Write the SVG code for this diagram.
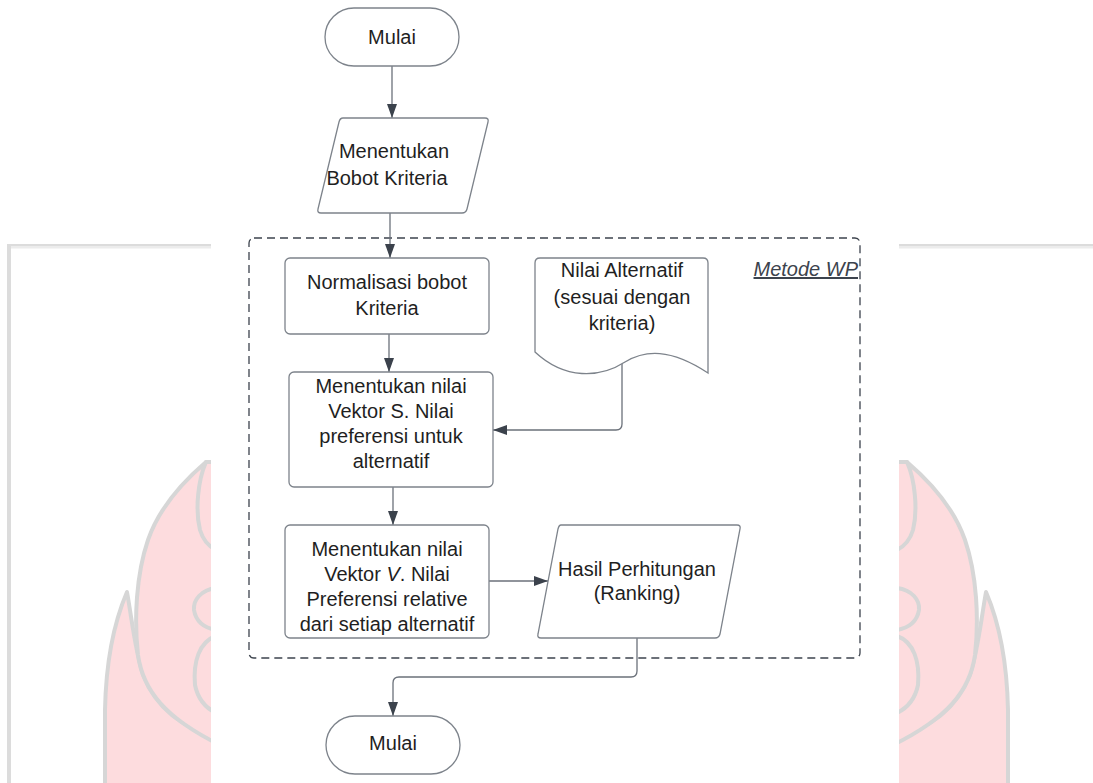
<svg xmlns="http://www.w3.org/2000/svg" width="1093" height="783" viewBox="0 0 1093 783">
  <defs>
    <style>
      .node { fill: #ffffff; stroke: #7d838b; stroke-width: 1.3; }
      .conn { fill: none; stroke: #6b717a; stroke-width: 1.3; }
      .frame { fill: none; stroke: #3c434d; stroke-width: 1.3; stroke-dasharray: 8 5; }
      .t { font-family: "Liberation Sans", Arial, sans-serif; font-size: 20px; fill: #1f1f1f; text-anchor: middle; }
      .lbl { font-family: "Liberation Sans", Arial, sans-serif; font-size: 20px; font-style: italic; fill: #3c434d; text-anchor: end; text-decoration: underline; }
      .flame { fill: #fddcde; stroke: #d6d6d6; stroke-width: 4; stroke-linejoin: round; }
      .fline { fill: none; stroke: #d6d6d6; stroke-width: 4; stroke-linecap: round; }
    </style>
    <marker id="arrow" viewBox="0 0 14 10" refX="14" refY="5" markerWidth="14" markerHeight="10" markerUnits="userSpaceOnUse" orient="auto">
      <path d="M0,0 L14,5 L0,10 Z" fill="#3b424c"/>
    </marker>
    <g id="flameHalf">
      <!-- small outer flame -->
      <path class="flame" d="M127,592 C115,620 106,660 105,710 L105,790 L220,790 L220,738 C180,728 155,705 143,675 C135,650 132,620 127,592 Z"/>
      <!-- large inner flame -->
      <path class="flame" d="M206,462 C185,480 160,505 148,540 C136,575 134,620 138,655 C143,690 165,718 220,745 L220,462 Z"/>
      <path class="fline" d="M206,462 C198,480 195,510 200,530 C203,540 208,546 216,550"/>
      <path class="fline" d="M216,588 C201,590 193,600 194,610 C196,622 205,628 216,630"/>
      <path class="fline" d="M216,636 C199,642 193,662 195,685 C198,700 206,708 216,713"/>
    </g>
  </defs>

  <rect x="0" y="0" width="1093" height="783" fill="#ffffff"/>

  <!-- background page watermark -->
  <g id="watermark">
    <rect x="7" y="244" width="1086" height="2" fill="#dcdcdc"/>
    <rect x="7" y="246" width="1086" height="2.5" fill="#ececec"/>
    <rect x="7" y="244" width="4" height="539" fill="#dcdcdc"/>
    <use href="#flameHalf"/>
    <use href="#flameHalf" transform="translate(1113,0) scale(-1,1)"/>
  </g>

  <!-- diagram sheet -->
  <rect x="211" y="0" width="688" height="783" fill="#ffffff"/>

  <!-- dashed group boundary -->
  <g id="metode-wp">
    <rect class="frame" x="249" y="238" width="611" height="420" rx="5"/>
    <text class="lbl" x="858" y="276">Metode WP</text>
  </g>

  <g id="connectors">
    <path class="conn" d="M392,66 V118" marker-end="url(#arrow)"/>
    <path class="conn" d="M390,213 V258" marker-end="url(#arrow)"/>
    <path class="conn" d="M389,334 V372" marker-end="url(#arrow)"/>
    <path class="conn" d="M622,362 V424 Q622,430 616,430 H493" marker-end="url(#arrow)"/>
    <path class="conn" d="M393,487 V525" marker-end="url(#arrow)"/>
    <path class="conn" d="M489,581 H548" marker-end="url(#arrow)"/>
    <path class="conn" d="M637,638 V671 Q637,677 631,677 H399 Q393,677 393,683 V716" marker-end="url(#arrow)"/>
  </g>

  <g id="start">
    <rect class="node" x="325" y="8" width="134" height="58" rx="29"/>
    <text class="t" x="392" y="44">Mulai</text>
  </g>

  <g id="input-bobot">
    <path class="node" d="M343,118 H485 Q489,118 488,122 L467,209 Q466,213 462,213 H321 Q317,213 318,209 L339,122 Q340,118 343,118 Z"/>
    <text class="t" x="394" y="158">Menentukan</text>
    <text class="t" x="387" y="185">Bobot Kriteria</text>
  </g>

  <g id="normalisasi">
    <rect class="node" x="285" y="258" width="204" height="76" rx="5"/>
    <text class="t" x="387" y="289">Normalisasi bobot</text>
    <text class="t" x="387" y="315">Kriteria</text>
  </g>

  <g id="nilai-alternatif">
    <path class="node" d="M540,258 H703 Q708,258 708,263 V373 C670,348 645,350 625,362 C600,378 565,380 535,352 V263 Q535,258 540,258 Z"/>
    <text class="t" x="622" y="277">Nilai Alternatif</text>
    <text class="t" x="622" y="304">(sesuai dengan</text>
    <text class="t" x="622" y="330">kriteria)</text>
  </g>

  <g id="vektor-s">
    <rect class="node" x="289" y="372" width="204" height="115" rx="5"/>
    <text class="t" x="391" y="393">Menentukan nilai</text>
    <text class="t" x="391" y="418">Vektor S. Nilai</text>
    <text class="t" x="391" y="443">preferensi untuk</text>
    <text class="t" x="391" y="468">alternatif</text>
  </g>

  <g id="vektor-v">
    <rect class="node" x="285" y="525" width="204" height="113" rx="5"/>
    <text class="t" x="387" y="556">Menentukan nilai</text>
    <text class="t" x="387" y="581">Vektor <tspan font-style="italic">V</tspan>. Nilai</text>
    <text class="t" x="387" y="606">Preferensi relative</text>
    <text class="t" x="387" y="631">dari setiap alternatif</text>
  </g>

  <g id="hasil">
    <path class="node" d="M561,525 H737 Q741,525 740,529 L720,634 Q719,638 715,638 H541 Q537,638 538,634 L558,529 Q559,525 561,525 Z"/>
    <text class="t" x="637" y="576">Hasil Perhitungan</text>
    <text class="t" x="637" y="600">(Ranking)</text>
  </g>

  <g id="end">
    <rect class="node" x="326" y="716" width="134" height="58" rx="29"/>
    <text class="t" x="393" y="750">Mulai</text>
  </g>
</svg>
